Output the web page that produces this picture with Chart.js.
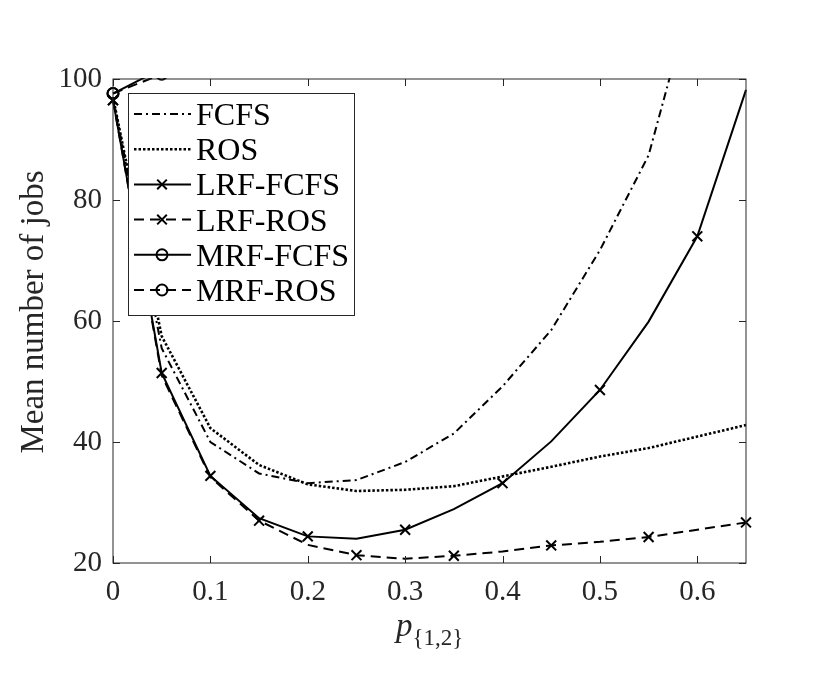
<!DOCTYPE html>
<html>
<head>
<meta charset="utf-8">
<script src="https://cdn.jsdelivr.net/npm/chart.js@4"></script>
<style>
  body { margin: 0; background: #fff; }
  #wrap { width: 830px; height: 683px; }
</style>
</head>
<body>
<div id="wrap"><canvas id="jobsChart"></canvas></div>
<script>
// x values (p_{1,2}) and tick marks
const pValues = [0, 0.05, 0.1, 0.15, 0.2, 0.25, 0.3, 0.35, 0.4, 0.45, 0.5, 0.55, 0.6, 0.65];
const xTicks = [0, 0.1, 0.2, 0.3, 0.4, 0.5, 0.6];
const yTicks = [20, 40, 60, 80, 100];

// mean number of jobs per policy
const fcfs    = [97.0, 55.5, 40.0, 34.8, 33.2, 33.7, 36.7, 41.4, 49.2, 58.5, 71.7, 87.4, 117, 155];
const ros     = [97.0, 57.5, 42.3, 36.2, 33.0, 31.9, 32.1, 32.7, 34.3, 35.9, 37.6, 39.0, 40.9, 42.8];
const lrfFcfs = [96.5, 51.4, 34.4, 27.4, 24.4, 24.0, 25.5, 28.9, 33.2, 40.1, 48.6, 59.9, 74.0, 98.2];
const lrfRos  = [96.5, 51.0, 34.2, 27.0, 23.0, 21.3, 20.7, 21.2, 21.9, 22.9, 23.5, 24.3, 25.5, 26.7];
const mrfFcfs = [97.6, 101.7, 118, 145, 190];
const mrfRos  = [97.6, 100.8, 110, 130, 170];

const labels = ['FCFS', 'ROS', 'LRF-FCFS', 'LRF-ROS', 'MRF-FCFS', 'MRF-ROS'];

const ink = '#262626';
const toPoints = arr => arr.map((v, i) => ({ x: pValues[i], y: v }));

// markers every other point, like MATLAB MarkerIndices
const lrfFcfsMark = i => (i <= 2 || i % 2 === 0);
const lrfRosMark = i => (i === 0 || (i >= 3 && i % 2 === 1));

function makeSet(label, data, dash, width, marker, showMark) {
    return {
        label: label,
        data: toPoints(data),
        borderColor: '#000',
        borderWidth: width,
        borderDash: dash,
        tension: 0,
        fill: false,
        pointStyle: marker || 'circle',
        pointRadius: ctx => (marker && showMark(ctx.dataIndex)) ? (marker === 'circle' ? 5.5 : 7) : 0,
        pointBorderWidth: 2,
        pointBorderColor: '#000',
        pointBackgroundColor: 'rgba(0,0,0,0)',
        clip: { left: 10, right: 10, top: 1, bottom: 10 }
    };
}

const datasets = [
    makeSet(labels[0], fcfs, [8, 4, 2, 4], 2, null),
    makeSet(labels[1], ros, [2.5, 2], 2.6, null),
    makeSet(labels[2], lrfFcfs, [], 2, 'crossRot', lrfFcfsMark),
    makeSet(labels[3], lrfRos, [10, 6], 2, 'crossRot', lrfRosMark),
    makeSet(labels[4], mrfFcfs, [], 2, 'circle', () => true),
    makeSet(labels[5], mrfRos, [10, 6], 2, 'circle', () => true)
];

function drawMarker(ctx, style, x, y) {
    ctx.beginPath();
    if (style === 'circle') {
        ctx.arc(x, y, 5.5, 0, Math.PI * 2);
    } else {
        const d = 4.8;
        ctx.moveTo(x - d, y - d); ctx.lineTo(x + d, y + d);
        ctx.moveTo(x - d, y + d); ctx.lineTo(x + d, y - d);
    }
    ctx.stroke();
}

// box, inward ticks, axis titles and the legend
const decorations = {
    id: 'decorations',
    afterDraw(chart) {
        const { ctx, chartArea: a, scales } = chart;
        ctx.save();
        ctx.strokeStyle = ink;
        ctx.lineWidth = 1;
        ctx.setLineDash([]);
        ctx.strokeRect(a.left, a.top, a.right - a.left, a.bottom - a.top);
        const t = 7;
        ctx.beginPath();
        xTicks.forEach(v => {
            const px = Math.round(scales.x.getPixelForValue(v)) + 0.5;
            ctx.moveTo(px, a.bottom); ctx.lineTo(px, a.bottom - t);
            ctx.moveTo(px, a.top); ctx.lineTo(px, a.top + t);
        });
        yTicks.forEach(v => {
            const py = Math.round(scales.y.getPixelForValue(v)) + 0.5;
            ctx.moveTo(a.left, py); ctx.lineTo(a.left + t, py);
            ctx.moveTo(a.right, py); ctx.lineTo(a.right - t, py);
        });
        ctx.stroke();

        // axis titles
        ctx.fillStyle = ink;
        ctx.textBaseline = 'alphabetic';
        ctx.font = 'italic 33px "Liberation Serif"';
        ctx.textAlign = 'left';
        const px0 = 396;
        ctx.fillText('p', px0, 636);
        const pw = ctx.measureText('p').width;
        ctx.font = '23px "Liberation Serif"';
        ctx.fillText('{1,2}', px0 + pw, 645);

        ctx.save();
        ctx.translate(43, 312);
        ctx.rotate(-Math.PI / 2);
        ctx.font = '33px "Liberation Serif"';
        ctx.textAlign = 'center';
        ctx.fillText('Mean number of jobs', 0, 0);
        ctx.restore();

        // legend
        const bx = 128, by = 93, bw = 226, bh = 222;
        ctx.fillStyle = '#fff';
        ctx.fillRect(bx, by, bw, bh);
        ctx.strokeStyle = ink;
        ctx.lineWidth = 1;
        ctx.strokeRect(bx + 0.5, by + 0.5, bw, bh);
        ctx.font = '32px "Liberation Serif"';
        ctx.textAlign = 'left';
        chart.data.datasets.forEach((ds, i) => {
            const base = 125 + i * 35.2;
            const cy = base - 11;
            ctx.strokeStyle = '#000';
            ctx.lineWidth = ds.borderWidth;
            ctx.setLineDash(ds.borderDash);
            ctx.beginPath();
            ctx.moveTo(134, cy); ctx.lineTo(191, cy);
            ctx.stroke();
            ctx.setLineDash([]);
            ctx.lineWidth = 2;
            if (i >= 2) drawMarker(ctx, ds.pointStyle, 162, cy);
            ctx.fillStyle = '#000';
            ctx.fillText(ds.label, 196, base);
        });
        ctx.restore();
    }
};

Chart.defaults.font.family = '"Liberation Serif"';
Chart.defaults.color = ink;

new Chart(document.getElementById('jobsChart').getContext('2d'), {
    type: 'line',
    data: { datasets: datasets },
    options: {
        responsive: true,
        maintainAspectRatio: false,
        animation: false,
        layout: { padding: { left: 0, top: 79, right: 84, bottom: 0 } },
        plugins: {
            legend: { display: false },
            tooltip: { enabled: false }
        },
        scales: {
            x: {
                type: 'linear',
                min: 0,
                max: 0.65,
                afterBuildTicks: s => { s.ticks = xTicks.map(v => ({ value: v })); },
                afterFit: s => { s.height = 120; },
                grid: { display: false, drawTicks: false },
                border: { display: false },
                ticks: { padding: 12, font: { size: 29 }, color: ink, maxRotation: 0 }
            },
            y: {
                min: 20,
                max: 100,
                afterBuildTicks: s => { s.ticks = yTicks.map(v => ({ value: v })); },
                afterFit: s => { s.width = 113; },
                grid: { display: false, drawTicks: false },
                border: { display: false },
                ticks: { padding: 11, font: { size: 29 }, color: ink }
            }
        }
    },
    plugins: [decorations]
});
</script>
</body>
</html>
